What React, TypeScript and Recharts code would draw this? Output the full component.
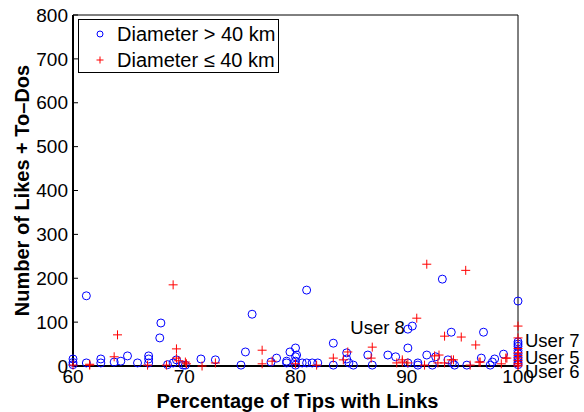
import { ScatterChart, Scatter, XAxis, YAxis } from 'recharts';

const FONT = '"Liberation Sans", Arial, Helvetica, sans-serif';
const BLUE = '#0000ff';
const RED = '#ff0000';

const xTicks = [60, 70, 80, 90, 100];
const yTicks = [0, 100, 200, 300, 400, 500, 600, 700, 800];

// [percentage of tips with links, likes + to-dos]
const largeCraters: [number, number][] = [
  [60, 16], [60, 8], [60, 3], [61.2, 160], [61.2, 7], [62.5, 16], [62.5, 7],
  [63.7, 9], [64.3, 11], [64.9, 23], [65.8, 7], [66.8, 23], [66.8, 16], [66.8, 7],
  [67.8, 64], [67.9, 98], [68.5, 3], [69.0, 7], [69.3, 14], [69.9, 2], [70.1, 2],
  [71.5, 16], [72.8, 14], [75.1, 2], [75.5, 32], [76.1, 118], [77.8, 9], [78.3, 18],
  [79.2, 11], [79.2, 7], [79.5, 32], [80.0, 41], [80.0, 21], [80.0, 11], [80.0, 2],
  [80.1, 25], [80.6, 7], [81.0, 173], [81.0, 7], [81.5, 7], [82.0, 7], [83.4, 52],
  [83.4, 2], [84.6, 30], [84.6, 16], [84.8, 7], [85.2, 2], [86.5, 25], [86.9, 2],
  [88.3, 25], [89.0, 21], [90.1, 84], [90.5, 91], [90.1, 41], [90.1, 7], [91.0, 7],
  [91.0, 2], [91.8, 25], [92.3, 2], [92.6, 21], [93.2, 198], [93.7, 14], [94.0, 77],
  [94.1, 7], [94.3, 2], [95.4, 2], [96.7, 18], [96.9, 77], [97.5, 2], [97.7, 9],
  [97.9, 16], [98.7, 27], [100, 148], [100, 55], [100, 50], [100, 45], [100, 35],
  [100, 28], [100, 20], [100, 14], [100, 8], [100, 3],
];

const smallCraters: [number, number][] = [
  [60, 2], [61.5, 2], [61.5, 4], [63.7, 21], [64.0, 71], [66.7, 2], [68.4, 2],
  [69.0, 185], [69.3, 39], [69.3, 18], [69.5, 12], [70.1, 9], [70.2, 5], [71.6, 0],
  [72.8, 7], [77.0, 36], [77.0, 5], [77.9, 11], [80.0, 5], [81.9, 2], [83.4, 18],
  [84.3, 14], [84.7, 32], [86.8, 18], [86.9, 43], [89.1, 7], [89.6, 9], [89.6, 14],
  [90.1, 7], [90.9, 109], [91.6, 2], [91.8, 232], [92.5, 23], [92.8, 7], [92.9, 25],
  [93.4, 68], [93.4, 7], [94.0, 14], [94.2, 14], [94.9, 66], [95.3, 218], [95.7, 2],
  [96.2, 48], [96.5, 9], [96.6, 9], [98.5, 5], [98.9, 18], [99.0, 18], [100, 91],
  [100, 64], [100, 40], [100, 30], [100, 24], [100, 18], [100, 12], [100, 6],
  [100, 2], [100, 0],
];

const userNotes = [
  { name: 'User 8', x: 90.1, y: 84 },
  { name: 'User 7', x: 100, y: 57 },
  { name: 'User 5', x: 100, y: 20 },
  { name: 'User 6', x: 100, y: 0 },
];

// text placement relative to the annotated point
const noteStyle: Record<string, { dx: number; dy: number; anchor: 'start' | 'end' }> = {
  'User 8': { dx: -3, dy: -2, anchor: 'end' },
  'User 7': { dx: 7, dy: 0, anchor: 'start' },
  'User 5': { dx: 7, dy: 0, anchor: 'start' },
  'User 6': { dx: 7, dy: 5, anchor: 'start' },
};

const toPoints = (rows: [number, number][]) => rows.map(([x, y]) => ({ x, y }));

function Ring(props: any) {
  const { cx, cy } = props;
  if (cx == null || cy == null) return null;
  return <circle cx={cx} cy={cy} r={4} fill="none" stroke={BLUE} strokeWidth={1} />;
}

function Cross(props: any) {
  const { cx, cy } = props;
  if (cx == null || cy == null) return null;
  const s = 4.5;
  return (
    <g stroke={RED} strokeWidth={1}>
      <line x1={cx - s} y1={cy} x2={cx + s} y2={cy} />
      <line x1={cx} y1={cy - s} x2={cx} y2={cy + s} />
    </g>
  );
}

function Note(props: any) {
  const { cx, cy, payload } = props;
  if (cx == null || cy == null) return null;
  const st = noteStyle[payload.name];
  return (
    <text
      x={cx + st.dx}
      y={cy + st.dy}
      textAnchor={st.anchor}
      dominantBaseline="central"
      fontFamily={FONT}
      fontSize={18.5}
      fill="#000"
    >
      {payload.name}
    </text>
  );
}

function YTitle(props: any) {
  const { viewBox } = props;
  const x = viewBox.x + 22;
  const y = viewBox.y + viewBox.height / 2;
  return (
    <text
      x={x}
      y={y}
      transform={`rotate(-90 ${x} ${y})`}
      textAnchor="middle"
      dominantBaseline="central"
      fontFamily={FONT}
      fontWeight="bold"
      fontSize={20}
      fill="#000"
    >
      Number of Likes + To–Dos
    </text>
  );
}

function XTitle(props: any) {
  const { viewBox } = props;
  const x = viewBox.x + viewBox.width / 2 + 2;
  const y = viewBox.y + 35;
  return (
    <text
      x={x}
      y={y}
      textAnchor="middle"
      dominantBaseline="central"
      fontFamily={FONT}
      fontWeight="bold"
      fontSize={20}
      fill="#000"
    >
      Percentage of Tips with Links
    </text>
  );
}

const tickStyle = { fontFamily: FONT, fontSize: 19, fill: '#000' };

export default function App() {
  return (
    <div style={{ position: 'absolute', left: 0, top: 0, width: 584, height: 412, background: '#fff' }}>
      <ScatterChart width={584} height={412} margin={{ top: 0, right: 0, bottom: 0, left: 0 }}>
        <XAxis
          xAxisId="b"
          type="number"
          dataKey="x"
          domain={[60, 100]}
          ticks={xTicks}
          height={46}
          tickSize={-5}
          tickMargin={9}
          tick={tickStyle}
          axisLine={{ stroke: '#000', strokeWidth: 2 }}
          tickLine={{ stroke: '#000' }}
          label={<XTitle />}
        />
        <XAxis
          xAxisId="t"
          orientation="top"
          type="number"
          domain={[60, 100]}
          ticks={xTicks}
          height={15}
          tickSize={-5}
          tick={false}
          axisLine={{ stroke: '#000', strokeWidth: 1 }}
          tickLine={{ stroke: '#000' }}
        />
        <YAxis
          yAxisId="l"
          type="number"
          dataKey="y"
          domain={[0, 800]}
          ticks={yTicks}
          width={73}
          tickSize={-5}
          tickMargin={10}
          tick={tickStyle}
          axisLine={{ stroke: '#000', strokeWidth: 2 }}
          tickLine={{ stroke: '#000' }}
          label={<YTitle />}
        />
        <YAxis
          yAxisId="r"
          orientation="right"
          type="number"
          domain={[0, 800]}
          ticks={yTicks}
          width={66}
          tickSize={-5}
          tick={false}
          axisLine={{ stroke: '#000', strokeWidth: 1 }}
          tickLine={{ stroke: '#000' }}
        />
        <Scatter
          name="Diameter > 40 km"
          xAxisId="b"
          yAxisId="l"
          data={toPoints(largeCraters)}
          shape={<Ring />}
          isAnimationActive={false}
        />
        <Scatter
          name="Diameter ≤ 40 km"
          xAxisId="b"
          yAxisId="l"
          data={toPoints(smallCraters)}
          shape={<Cross />}
          isAnimationActive={false}
        />
        <Scatter
          xAxisId="b"
          yAxisId="l"
          data={userNotes}
          shape={<Note />}
          legendType="none"
          isAnimationActive={false}
        />
      </ScatterChart>
      <div
        style={{
          position: 'absolute',
          left: 78,
          top: 19,
          width: 199,
          height: 52,
          border: '1px solid #000',
          background: '#fff',
          fontFamily: FONT,
          fontSize: 20,
          color: '#000',
        }}
      >
        <svg width={199} height={52} style={{ position: 'absolute', left: 0, top: 0 }}>
          <circle cx={21} cy={14} r={3} fill="none" stroke={BLUE} strokeWidth={1} />
          <line x1={17.5} y1={40} x2={24.5} y2={40} stroke={RED} strokeWidth={1} />
          <line x1={21} y1={36.5} x2={21} y2={43.5} stroke={RED} strokeWidth={1} />
        </svg>
        <div style={{ position: 'absolute', left: 38, top: 2, lineHeight: '24px', whiteSpace: 'nowrap' }}>
          Diameter &gt; 40 km
        </div>
        <div style={{ position: 'absolute', left: 38, top: 28, lineHeight: '24px', whiteSpace: 'nowrap' }}>
          Diameter ≤ 40 km
        </div>
      </div>
    </div>
  );
}
